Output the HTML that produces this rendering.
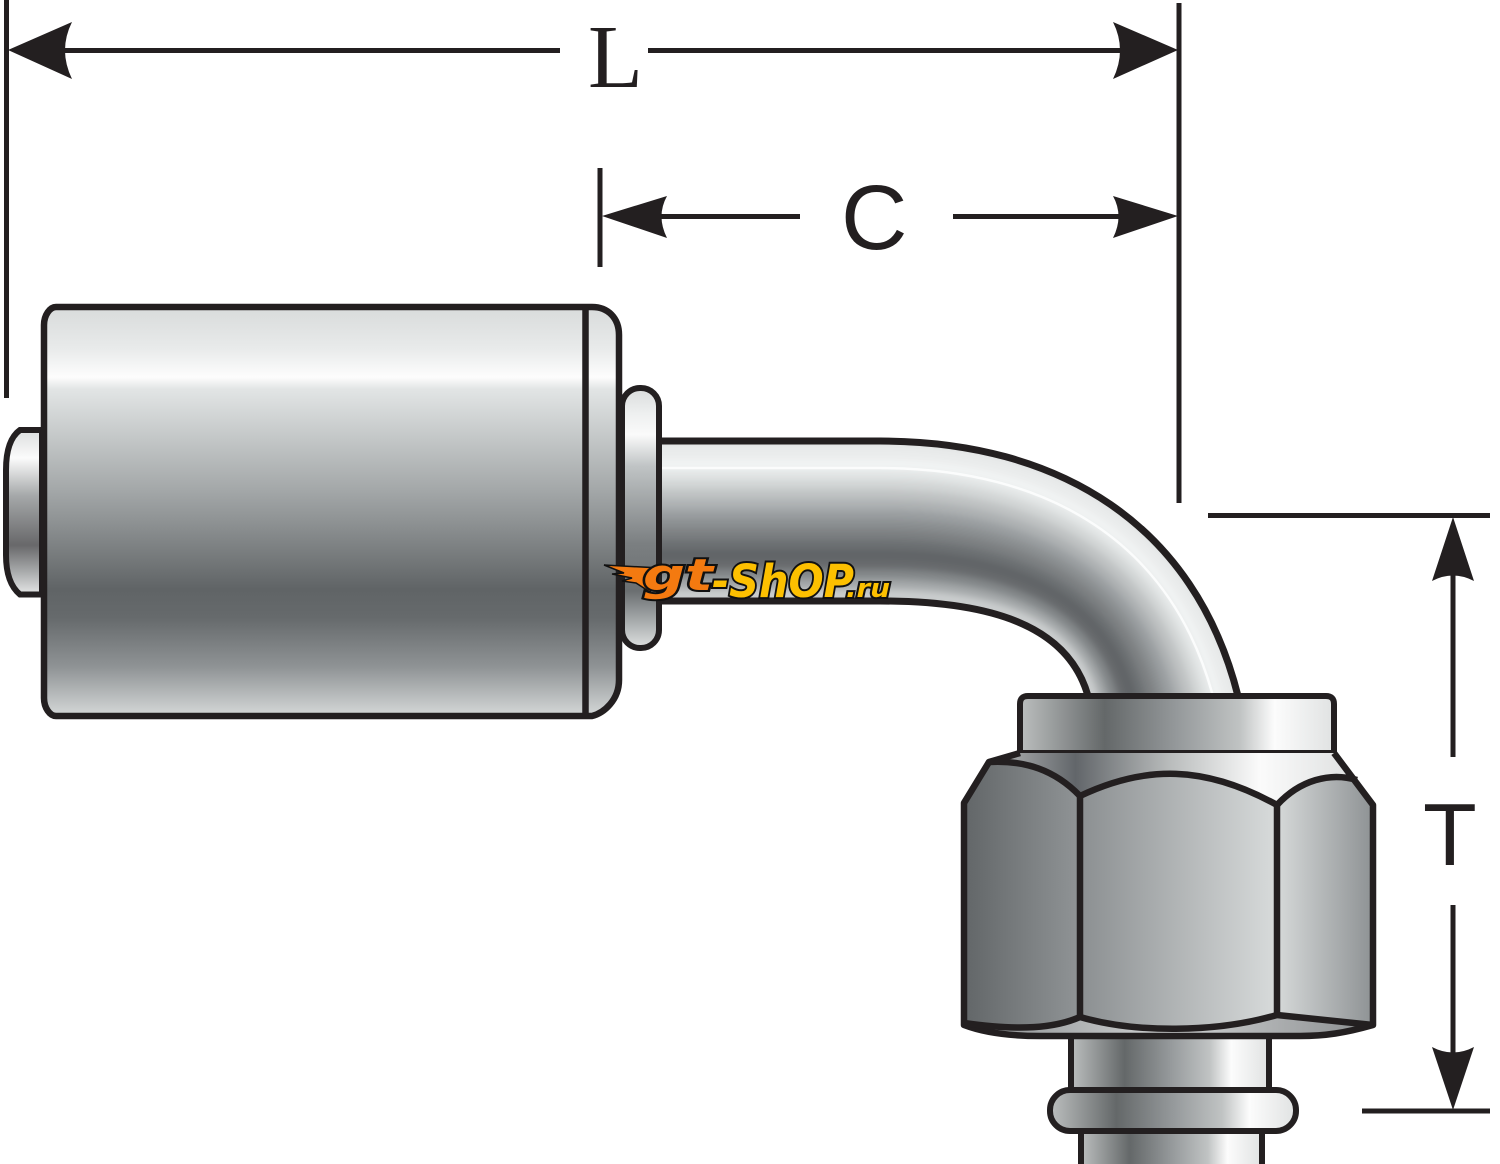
<!DOCTYPE html>
<html>
<head>
<meta charset="utf-8">
<style>
html,body{margin:0;padding:0;background:#fff;width:1500px;height:1164px;overflow:hidden}
svg{display:block}
</style>
</head>
<body>
<svg width="1500" height="1164" viewBox="0 0 1500 1164" xmlns="http://www.w3.org/2000/svg">
<defs>
<linearGradient id="body" x1="0" y1="0" x2="0" y2="1">
<stop offset="0" stop-color="#d8dbdb"/><stop offset=".1" stop-color="#e8eaea"/><stop offset=".172" stop-color="#fdfdfd"/>
<stop offset=".2" stop-color="#e2e5e5"/><stop offset=".45" stop-color="#a3a7a8"/><stop offset=".69" stop-color="#606466"/>
<stop offset=".76" stop-color="#666a6c"/><stop offset=".88" stop-color="#8f9395"/><stop offset="1" stop-color="#d5d8d8"/>
</linearGradient>
<linearGradient id="flange" x1="0" y1="0" x2="0" y2="1">
<stop offset="0" stop-color="#dadcdc"/><stop offset=".1" stop-color="#eef0f0"/><stop offset=".18" stop-color="#fafafa"/>
<stop offset=".3" stop-color="#c0c4c5"/><stop offset=".6" stop-color="#7b7f81"/><stop offset=".78" stop-color="#6b6f71"/>
<stop offset=".9" stop-color="#a9adae"/><stop offset="1" stop-color="#dfe1e1"/>
</linearGradient>
<linearGradient id="nub" x1="0" y1="0" x2="0" y2="1">
<stop offset="0" stop-color="#dcdede"/><stop offset=".17" stop-color="#fbfbfb"/><stop offset=".4" stop-color="#a5a8a9"/>
<stop offset=".7" stop-color="#68686a"/><stop offset=".85" stop-color="#a4a6a7"/><stop offset="1" stop-color="#e6e7e7"/>
</linearGradient>
<linearGradient id="collar" x1="0" y1="0" x2="1" y2="0">
<stop offset="0" stop-color="#bcbfbf"/><stop offset=".27" stop-color="#646869"/><stop offset=".5" stop-color="#95999b"/>
<stop offset=".7" stop-color="#c0c3c3"/><stop offset=".81" stop-color="#fcfcfc"/><stop offset="1" stop-color="#e0e2e2"/>
</linearGradient>
<linearGradient id="chamfer" gradientUnits="userSpaceOnUse" x1="965" y1="0" x2="1375" y2="0">
<stop offset="0" stop-color="#d0d2d2"/><stop offset=".27" stop-color="#62666a"/><stop offset=".5" stop-color="#b9bcbc"/>
<stop offset=".72" stop-color="#fbfbfb"/><stop offset="1" stop-color="#d8dada"/>
</linearGradient>
<linearGradient id="faceL" x1="0" y1="0" x2="1" y2="0"><stop offset="0" stop-color="#626668"/><stop offset="1" stop-color="#909496"/></linearGradient>
<linearGradient id="faceM" x1="0" y1="0" x2="1" y2="0"><stop offset="0" stop-color="#8b8f91"/><stop offset="1" stop-color="#d8dbdb"/></linearGradient>
<linearGradient id="faceR" x1="0" y1="0" x2="1" y2="0"><stop offset="0" stop-color="#d6d9d9"/><stop offset="1" stop-color="#8e9294"/></linearGradient>
<linearGradient id="base" gradientUnits="userSpaceOnUse" x1="965" y1="0" x2="1375" y2="0">
<stop offset="0" stop-color="#8a8d8f"/><stop offset=".5" stop-color="#cfd1d2"/><stop offset="1" stop-color="#8a8d8f"/>
</linearGradient>
<clipPath id="tubeClip"><path d="M660,441 L880,441 C1060,441 1195,525 1240,693 L1088,693 C1068,625 990,601 880,601 L660,601 Z"/></clipPath>
<filter id="soft" x="-5%" y="-5%" width="110%" height="110%"><feGaussianBlur stdDeviation="3.5"/></filter>
</defs>

<rect width="1500" height="1164" fill="#fff"/>

<!-- bent tube -->
<g clip-path="url(#tubeClip)">
<rect x="650" y="430" width="600" height="270" fill="#a0a4a5"/>
<g fill="none" stroke-width="13" filter="url(#soft)">
<path stroke="#e6e8e8" d="M640,446 L880,446 C1058,446 1191,528 1235,700"/>
<path stroke="#eaecec" d="M640,456 L880,456 C1053,456 1183,534 1226,700"/>
<path stroke="#f2f4f4" d="M640,466 L880,466 C1049,466 1175,541 1216,700"/>
<path stroke="#e2e5e5" d="M640,476 L880,476 C1045,476 1167,547 1207,700"/>
<path stroke="#d2d5d5" d="M640,486 L880,486 C1040,486 1159,553 1197,700"/>
<path stroke="#bfc2c3" d="M640,496 L880,496 C1036,496 1151,559 1188,700"/>
<path stroke="#adb1b2" d="M640,506 L880,506 C1032,506 1143,566 1178,700"/>
<path stroke="#9a9ea0" d="M640,516 L880,516 C1027,516 1135,572 1169,700"/>
<path stroke="#8a8e90" d="M640,526 L880,526 C1023,526 1128,578 1159,700"/>
<path stroke="#7b7f81" d="M640,536 L880,536 C1018,536 1120,584 1150,700"/>
<path stroke="#6c7072" d="M640,546 L880,546 C1014,546 1112,591 1140,700"/>
<path stroke="#606466" d="M640,556 L880,556 C1010,556 1104,597 1131,700"/>
<path stroke="#676b6d" d="M640,566 L880,566 C1005,566 1096,603 1121,700"/>
<path stroke="#84888a" d="M640,576 L880,576 C1001,576 1088,609 1112,700"/>
<path stroke="#a5a9aa" d="M640,586 L880,586 C997,586 1080,616 1102,700"/>
<path stroke="#cacdce" d="M640,596 L880,596 C992,596 1072,622 1093,700"/>
</g>
<path fill="none" stroke="#fbfcfc" stroke-width="2.500" d="M640,468 L880,468 C1048,468 1173,542 1214,700"/>
</g>
<g fill="none" stroke="#231f20" stroke-width="7">
<path d="M655,441 L880,441 C1060,441 1195,525 1238,696"/>
<path d="M655,601 L880,601 C990,601 1068,625 1088,696"/>
</g>

<!-- left nub -->
<path d="M42,430 L20,430 Q6,440 6,470 L6,555 Q6,583 20,594.500 L42,594.500 Z" fill="url(#nub)" stroke="#231f20" stroke-width="6"/>

<!-- flange -->
<rect x="622" y="388" width="37" height="260" rx="18" fill="url(#flange)" stroke="#231f20" stroke-width="6"/>

<!-- main body -->
<path d="M56,307 L592,307 C608,307 619,318 619,335 L619,680 C619,700 604,713 592,716 L56,716 C50,716 44,708 44,698 L44,325 C44,315 50,307 56,307 Z" fill="url(#body)" stroke="#231f20" stroke-width="6.500"/>
<path d="M585.500,307 L585.500,716" fill="none" stroke="#231f20" stroke-width="6.500"/>

<!-- lower stem -->
<rect x="1071" y="1030" width="198" height="64" fill="url(#collar)" stroke="#231f20" stroke-width="6"/>
<rect x="1081" y="1125" width="181" height="60" fill="url(#collar)" stroke="#231f20" stroke-width="6"/>
<rect x="1050" y="1090" width="246" height="41" rx="20" fill="url(#collar)" stroke="#231f20" stroke-width="6"/>

<!-- collar -->
<path d="M1020,753 L1020,704 Q1020,696 1028,696 L1326,696 Q1334,696 1334,704 L1334,753 Z" fill="url(#collar)" stroke="#231f20" stroke-width="6"/>

<!-- hex nut -->
<path d="M1020,753 L1334,753 L1373,805 L1373,1025 C1345,1033 1325,1036 1300,1036 L1040,1036 C1010,1036 985,1033 964,1025 L964,803 L989,762 Z" fill="url(#chamfer)"/>
<path d="M964,1024 L1030,1030 L1078,1018 L1173,1030 L1278,1016 L1373,1024 L1340,1035 L1000,1035 Z" fill="url(#base)"/>
<path d="M964,803 L989,762 C1025,760 1055,770 1080,796 L1080,1017 C1055,1028 1020,1031 964,1024 Z" fill="url(#faceL)"/>
<path d="M1080,796 C1145,765 1205,765 1277,805 L1277,1015 C1215,1033 1135,1033 1080,1017 Z" fill="url(#faceM)"/>
<path d="M1277,805 C1300,780 1330,772 1357,780 L1373,805 L1373,1024 L1277,1015 Z" fill="url(#faceR)"/>
<g fill="none" stroke="#231f20" stroke-width="6.500" stroke-linejoin="round">
<path d="M1020,753 L989,762 L964,803 L964,1025 C985,1033 1010,1036 1040,1036 L1300,1036 C1325,1036 1345,1033 1373,1025 L1373,805 L1334,753"/>
<path d="M989,762 C1025,760 1055,770 1080,796 C1145,765 1205,765 1277,805 C1300,780 1330,772 1357,780"/>
<path d="M1080,796 L1080,1017 M1277,805 L1277,1015"/>
<path d="M964,1023 C1020,1031 1055,1028 1080,1017 C1135,1033 1215,1033 1277,1015 L1373,1025"/>
</g>

<!-- dimension lines -->
<g fill="none" stroke="#231f20" stroke-width="5">
<path d="M6.500,0 L6.500,398"/>
<path d="M1179,3 L1179,503"/>
<path d="M600,168 L600,267"/>
<path d="M60,50.500 L560,50.500 M648,50.500 L1125,50.500"/>
<path d="M655,216.500 L800,216.500 M953,216.500 L1125,216.500"/>
<path d="M1208,515.500 L1490,515.500 M1362,1111 L1490,1111"/>
<path d="M1453,570 L1453,757 M1453,905 L1453,1060"/>
</g>
<g fill="#231f20">
<path d="M8,50 L72,22 Q58,50 72,79 Z"/>
<path d="M1178,50 L1113,22 Q1127,50 1113,79 Z"/>
<path d="M602,216 L667,196 Q656,216 667,238 Z"/>
<path d="M1178,216 L1113,196 Q1124,216 1113,238 Z"/>
<path d="M1453,517 L1432,581 Q1453,570 1474,581 Z"/>
<path d="M1453,1110 L1432,1047 Q1453,1058 1474,1047 Z"/>
</g>
<text x="588" y="87" font-family="'Liberation Serif',serif" font-size="90" fill="#231f20">L</text>
<text x="841" y="249" font-family="'Liberation Sans',sans-serif" font-size="92" fill="#231f20">C</text>
<text x="1423" y="865" font-family="'Liberation Sans',sans-serif" font-size="88" fill="#231f20">T</text>

<!-- watermark -->
<g stroke="#111" stroke-width="1.500">
<path d="M604,565 L660,568 L650,592 L636,583 L622,581 L632,578 L612,574 L624,573 Z" fill="#f47a10"/>
</g>
<g font-family="'DejaVu Sans',sans-serif" font-weight="bold" font-style="italic" stroke="#111" stroke-width="4" style="paint-order:stroke">
<text x="643" y="590" font-size="44" textLength="70" lengthAdjust="spacingAndGlyphs" fill="#f47a10">gt</text>
<text x="712" y="597" font-size="45" textLength="142" lengthAdjust="spacingAndGlyphs" fill="#fdc000">-ShOP</text>
<text x="846" y="597" font-size="26" textLength="44" lengthAdjust="spacingAndGlyphs" fill="#fdc000">.ru</text>
</g>
</svg>
</body>
</html>
